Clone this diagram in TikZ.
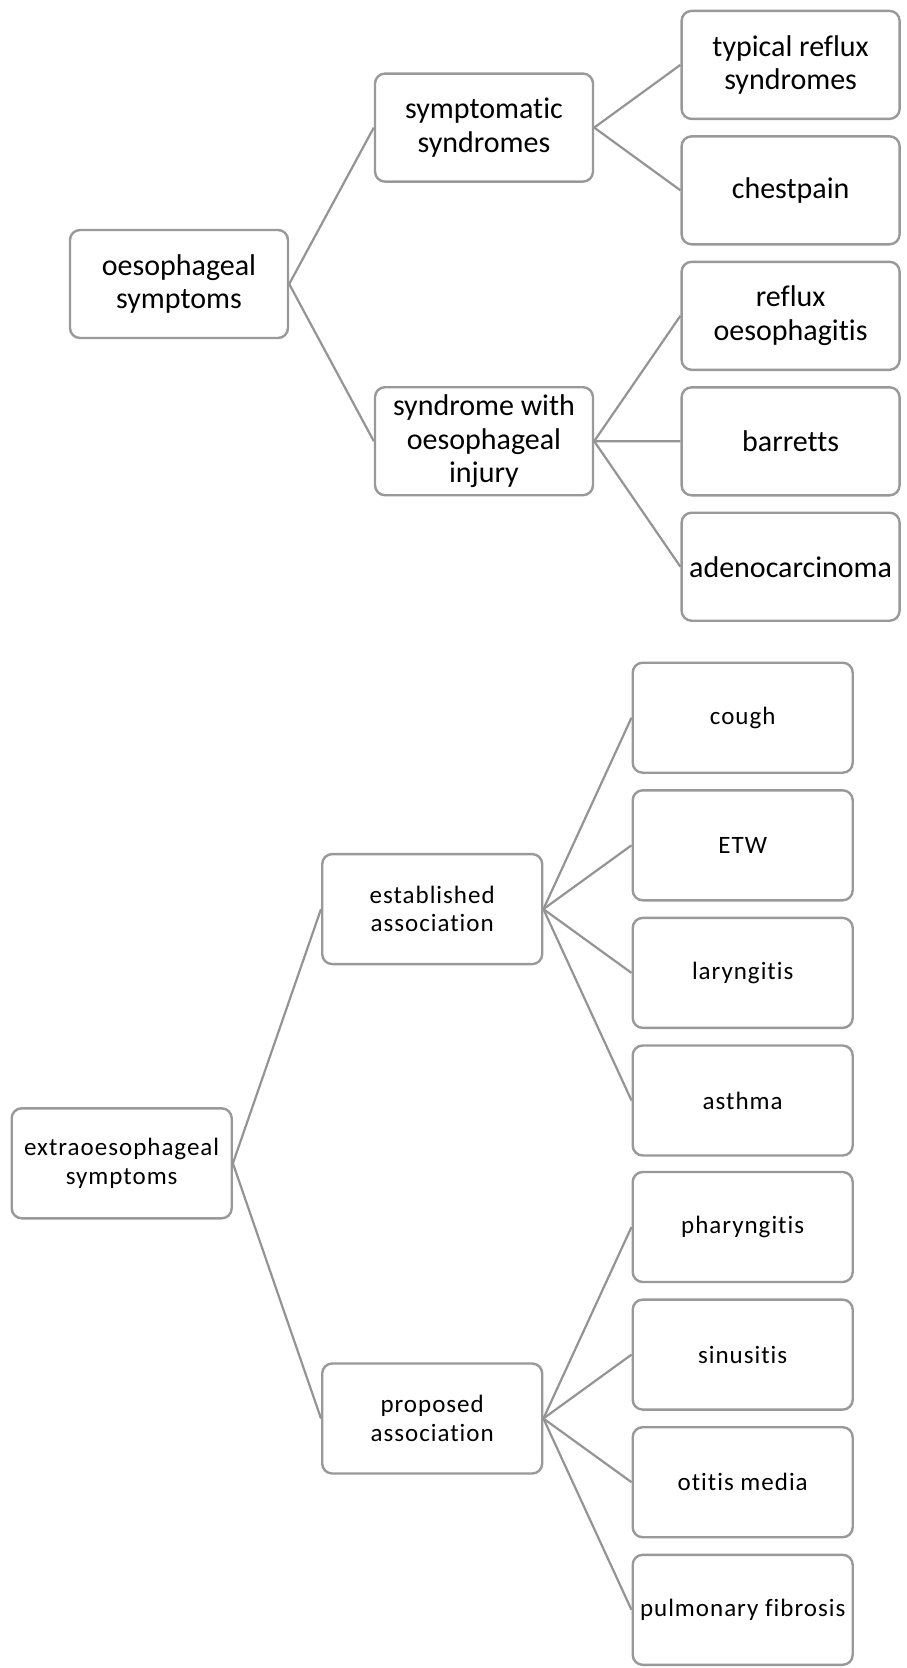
\documentclass[tikz,border=0pt]{standalone}
\usepackage{fontspec}
\setmainfont{Carlito}[RawFeature={-liga;-clig;-dlig;-calt;-rlig}]
\newfontfamily\lowerfont{Carlito}[LetterSpace=4,RawFeature={-liga;-clig;-dlig;-calt;-rlig}]
\begin{document}
\begin{tikzpicture}[x=1pt,y=-1pt,
  box/.style={draw=black!40, line width=2.4pt, rounded corners=10pt, fill=white,
    align=center, inner sep=0pt, text=black},
  topbox/.style={box, minimum width=218pt, minimum height=108pt,
    font=\fontsize{30}{33.5}\selectfont},
  lowbox/.style={box, minimum width=220pt, minimum height=110pt,
    font=\lowerfont\fontsize{25}{28.5}\selectfont},
  link/.style={draw=black!42, line width=2.2pt}]
\useasboundingbox (0,0) rectangle (907,1668);

% upper tree: oesophageal symptoms
\node[topbox] (oes) at (179,284) {oesophageal\\symptoms};
\node[topbox] (sym) at (484,127.6) {symptomatic\\syndromes};
\node[topbox] (inj) at (484,441.2) {syndrome with\\oesophageal\\injury};
\node[topbox] (typ) at (790.6,64.9) {typical reflux\\syndromes};
\node[topbox] (che) at (790.6,190.3) {chestpain};
\node[topbox] (ref) at (790.6,315.8) {reflux\\oesophagitis};
\node[topbox] (bar) at (790.6,441.3) {barretts};
\node[topbox] (ade) at (790.6,566.7) {adenocarcinoma};

\draw[link] (oes.east) -- (sym.west);
\draw[link] (oes.east) -- (inj.west);
\foreach \c in {typ,che} \draw[link] (sym.east) -- (\c.west);
\foreach \c in {ref,bar,ade} \draw[link] (inj.east) -- (\c.west);

% lower tree: extraoesophageal symptoms
\node[lowbox] (ext) at (121.7,1163.3) {extraoesophageal\\symptoms};
\node[lowbox] (est) at (432.2,909.1) {established\\association};
\node[lowbox] (pro) at (432.2,1418.5) {proposed\\association};
\node[lowbox] (cou) at (742.7,717.7) {cough};
\node[lowbox] (etw) at (742.7,845.3) {ETW};
\node[lowbox] (lar) at (742.7,972.9) {laryngitis};
\node[lowbox] (ast) at (742.7,1100.5) {asthma};
\node[lowbox] (pha) at (742.7,1227.0) {pharyngitis};
\node[lowbox] (sin) at (742.7,1354.6) {sinusitis};
\node[lowbox] (oti) at (742.7,1482.2) {otitis media};
\node[lowbox] (pul) at (742.7,1609.8) {pulmonary fibrosis};

\draw[link] (ext.east) -- (est.west);
\draw[link] (ext.east) -- (pro.west);
\foreach \c in {cou,etw,lar,ast} \draw[link] (est.east) -- (\c.west);
\foreach \c in {pha,sin,oti,pul} \draw[link] (pro.east) -- (\c.west);
\end{tikzpicture}
\end{document}
